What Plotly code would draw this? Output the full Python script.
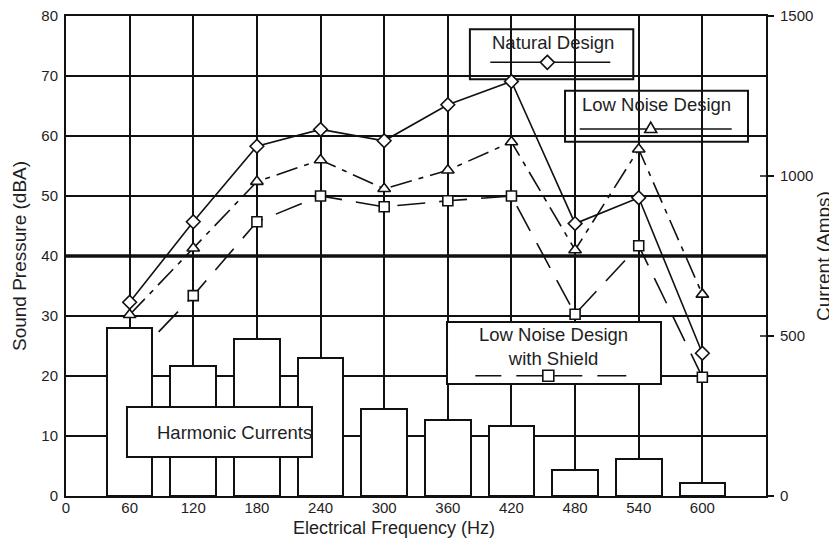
import plotly.graph_objects as go

# ---------------- data ----------------
freq = [60, 120, 180, 240, 300, 360, 420, 480, 540, 600]
natural_design = [32.3, 45.7, 58.3, 61.1, 59.2, 65.2, 69.1, 45.4, 49.7, 23.8]
low_noise_design = [30.2, 41.3, 52.4, 56.0, 51.2, 54.3, 59.0, 41.0, 57.8, 33.6]
low_noise_shield = [22.3, 33.4, 45.7, 50.0, 48.2, 49.2, 50.0, 30.3, 41.7, 19.8]
harmonic_currents = [525, 405, 490, 430, 272, 238, 220, 80, 115, 40]

x_ticks = [0, 60, 120, 180, 240, 300, 360, 420, 480, 540, 600]
y_left_ticks = [0, 10, 20, 30, 40, 50, 60, 70, 80]
y_right_ticks = [0, 500, 1000, 1500]

# ---------------- style ----------------
FONT = "Liberation Sans, Arial, sans-serif"
TXT = "#1e1e1e"
LINE = "#111111"
BAR_WIDTH = 43

fig = go.Figure()

fig.add_trace(go.Bar(
    x=freq, y=harmonic_currents, yaxis="y2", width=BAR_WIDTH,
    marker=dict(color="white", line=dict(color=LINE, width=2)),
    showlegend=False, name="Harmonic Currents"))

fig.add_trace(go.Scatter(
    x=freq, y=low_noise_shield, mode="lines+markers", name="Low Noise Design with Shield",
    line=dict(color=LINE, width=1.6, dash="28px,14px"),
    marker=dict(symbol="square", size=10, color="white", line=dict(color=LINE, width=1.6)),
    showlegend=False))

fig.add_trace(go.Scatter(
    x=freq, y=low_noise_design, mode="lines+markers", name="Low Noise Design",
    line=dict(color=LINE, width=1.6, dash="22px,7px,5px,7px"),
    marker=dict(symbol="triangle-up", size=11, color="white", line=dict(color=LINE, width=1.6)),
    showlegend=False))

fig.add_trace(go.Scatter(
    x=freq, y=natural_design, mode="lines+markers", name="Natural Design",
    line=dict(color=LINE, width=1.6),
    marker=dict(symbol="diamond", size=10.5, color="white", line=dict(color=LINE, width=1.6)),
    showlegend=False))

shapes = []
# thick 40 dBA gridline
shapes.append(dict(type="line", xref="paper", yref="y", x0=0, x1=1, y0=40, y1=40,
                   line=dict(color=LINE, width=3.5), layer="between"))
# inside half of right-axis ticks
for v in y_right_ticks[1:-1]:
    shapes.append(dict(type="line", xref="paper", yref="y2", xsizemode="pixel", xanchor=1,
                       x0=-6, x1=0, y0=v, y1=v, line=dict(color=LINE, width=1.5), layer="above"))


def box(x0, x1, y0, y1, layer):
    shapes.append(dict(type="rect", xref="paper", yref="paper", x0=x0, x1=x1, y0=y0, y1=y1,
                       fillcolor="white", line=dict(color=LINE, width=2), layer=layer))


def key_path(x, y, path, fill="white"):
    # path in pixels, relative to the anchor point (x, y) given in paper units
    shapes.append(dict(type="path", xref="paper", yref="paper", xsizemode="pixel", ysizemode="pixel",
                       xanchor=x, yanchor=y, path=path, fillcolor=fill,
                       line=dict(color=LINE, width=1.6), layer="above"))


DIAMOND = "M 0 7 L 7 0 L 0 -7 L -7 0 Z"
TRIANGLE = "M -6 -3.5 L 6 -3.5 L 0 7 Z"
SQUARE = "M -5.5 -5.5 L 5.5 -5.5 L 5.5 5.5 L -5.5 5.5 Z"
SOLID_NATURAL = "M -57 0 L 63 0"
SOLID_LOWNOISE = "M -71 0 L 81 0"
DASHED_SHIELD = "M -73 0 L -47 0 M -32 0 L -5 0 M 6 0 L 34 0 M 49 0 L 78 0"

# boxes that sit under the data lines
box(0.577, 0.8104, 0.868, 0.9723, "between")     # Natural Design
box(0.7129, 0.9743, 0.7381, 0.8444, "between")   # Low Noise Design

key_path(0.6876, 0.9035, SOLID_NATURAL, fill="rgba(0,0,0,0)")
key_path(0.6876, 0.9035, DIAMOND)
key_path(0.8353, 0.7646, SOLID_LOWNOISE, fill="rgba(0,0,0,0)")
key_path(0.8353, 0.7646, TRIANGLE)

# Low Noise Design with Shield box, then its key
box(0.5443, 0.85, 0.2333, 0.3625, "above")
key_path(0.689, 0.2505, DASHED_SHIELD, fill="rgba(0,0,0,0)")
key_path(0.689, 0.2505, SQUARE)

# Harmonic Currents box (covers the bars)
box(0.0871, 0.3514, 0.0813, 0.1854, "above")

ann_font = dict(family=FONT, size=18.5, color=TXT)
annotations = [
    dict(text="Natural Design", x=0.6953, y=0.9452, xref="paper", yref="paper",
         showarrow=False, font=ann_font, xanchor="center", yanchor="middle"),
    dict(text="Low Noise Design", x=0.8429, y=0.8146, xref="paper", yref="paper",
         showarrow=False, font=ann_font, xanchor="center", yanchor="middle"),
    dict(text="Low Noise Design<br>with Shield", x=0.6971, y=0.3115, xref="paper", yref="paper",
         showarrow=False, font=ann_font, xanchor="center", yanchor="middle"),
    dict(text="Harmonic Currents", x=0.2414, y=0.1333, xref="paper", yref="paper",
         showarrow=False, font=ann_font, xanchor="center", yanchor="middle"),
    dict(text="Electrical Frequency (Hz)", x=0.4686, y=-0.0667, xref="paper", yref="paper",
         showarrow=False, font=dict(family=FONT, size=18, color=TXT),
         xanchor="center", yanchor="middle"),
]

# the page body has an 8px margin, so the figure is 8px smaller than the window
fig.update_layout(
    width=829, height=538,
    margin=dict(l=58, r=71, t=8, b=50),
    paper_bgcolor="white", plot_bgcolor="white",
    font=dict(family=FONT, color=TXT, size=15),
    bargap=0,
    shapes=shapes, annotations=annotations,
    xaxis=dict(range=[0, 660], tickvals=x_ticks, ticktext=[str(v) for v in x_ticks],
               showgrid=True, gridcolor=LINE, gridwidth=1.8, automargin=False,
               showline=True, linecolor=LINE, linewidth=2, mirror=True,
               ticks="", zeroline=False, tickfont=dict(size=15, color=TXT),
               ticklabelstandoff=-3),
    yaxis=dict(range=[0, 80], tickvals=y_left_ticks, automargin=False,
               showgrid=True, gridcolor=LINE, gridwidth=1.8,
               showline=True, linecolor=LINE, linewidth=2, mirror=True,
               ticks="", zeroline=False, tickfont=dict(size=15, color=TXT),
               ticklabelstandoff=3, ticklabeloverflow="allow",
               title=dict(text="Sound Pressure (dBA)", font=dict(size=19, color=TXT), standoff=10)),
    yaxis2=dict(range=[0, 1500], tickvals=y_right_ticks, overlaying="y", side="right",
                showgrid=False, showline=True, linecolor=LINE, linewidth=2, automargin=False,
                ticks="outside", ticklen=6, tickwidth=1.5, tickcolor=LINE, zeroline=False,
                tickfont=dict(size=15, color=TXT), ticklabelstandoff=3, ticklabeloverflow="allow",
                title=dict(text="Current (Amps)", font=dict(size=19, color=TXT), standoff=4)),
)

fig.write_html("out.html")
